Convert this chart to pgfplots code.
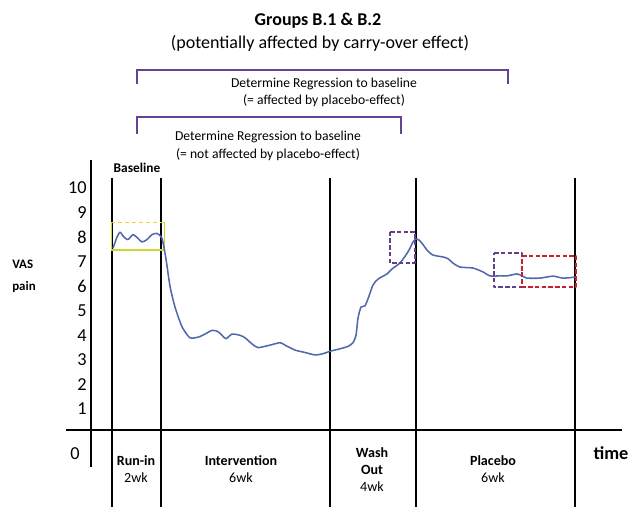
\documentclass[border=0pt]{standalone}
\usepackage{pgfplots}
\pgfplotsset{compat=1.18}
\usepackage{fontspec}
\setmainfont{Carlito}
\definecolor{curve}{RGB}{80,104,172}
\definecolor{brk}{RGB}{100,66,150}
\definecolor{boxpurple}{RGB}{100,62,140}
\definecolor{boxred}{RGB}{205,30,45}
\definecolor{boxyellow}{RGB}{232,214,40}
\definecolor{boxyg}{RGB}{200,215,50}
\newcommand{\fs}[1]{\fontsize{#1}{#1}\selectfont}
\begin{document}
\begin{tikzpicture}
\begin{axis}[
  scale only axis,
  width=15.975cm, height=12.725cm,
  xmin=0, xmax=639,
  ymin=-3.075, ymax=17.658,
  axis lines=none,
  clip=false,
  every axis plot/.append style={line join=round},
]
\path (axis cs:0,-3.075) rectangle (axis cs:639,17.658);

% axes and period separators
\addplot[black, line width=1.5pt] coordinates {(66,0.14) (622,0.14)};
\addplot[black, line width=1.5pt] coordinates {(91,11.14) (91,-1.35)};
\addplot[black, line width=1.1pt] coordinates {(112,10.41) (112,-2.99)};
\addplot[black, line width=1.1pt] coordinates {(161,10.41) (161,-2.99)};
\addplot[black, line width=1.1pt] coordinates {(330,10.41) (330,-2.99)};
\addplot[black, line width=1.1pt] coordinates {(416,10.41) (416,-2.99)};
\addplot[black, line width=1.1pt] coordinates {(575,10.41) (575,-2.99)};

% baseline window (yellow)
\addplot[boxyg, line width=0.6pt] coordinates {(111,8.6) (111,7.47)};
\addplot[boxyg, line width=0.6pt] coordinates {(164,8.6) (164,7.47)};
\addplot[boxyg, line width=1.1pt] coordinates {(111,7.47) (164,7.47)};
\addplot[boxyellow, line width=1.2pt, dash pattern=on 3pt off 2pt]
  coordinates {(111,8.6) (164,8.6)};

% VAS pain course
\addplot[curve, line width=1.1pt, smooth, tension=0.4] coordinates {
(113,7.55)(117,8.0)(120,8.2)(124,8.0)(128,7.9)(133,8.1)(138,7.95)(142,7.8)
(147,7.9)(152,8.1)(157,8.15)(162,7.95)(166,7.1)(170,6.0)(175,5.15)(182,4.35)
(190,3.9)(200,3.95)(212,4.2)(218,4.15)(222,4.0)(226,3.86)(232,4.05)(240,4.0)
(245,3.9)(252,3.65)(258,3.5)(270,3.6)(280,3.7)(285,3.6)(295,3.4)(305,3.3)
(315,3.2)(323,3.25)(330,3.35)(340,3.45)(348,3.55)(353,3.7)(356,4.0)(358,4.7)
(361,5.15)(365,5.2)(369,5.6)(373,6.05)(378,6.29)(387,6.5)(392,6.7)(400,6.95)
(408,7.4)(413,7.8)(416,7.92)(419,7.88)(423,7.7)(427,7.47)(433,7.27)(443,7.19)
(448,7.12)(453,6.94)(460,6.78)(473,6.74)(483,6.58)(490,6.42)(500,6.42)
(507,6.42)(517,6.5)(522,6.42)(527,6.33)(540,6.33)(553,6.41)(563,6.33)(575,6.37)
};

% marked windows
\addplot[boxpurple, line width=1.3pt, dash pattern=on 3.2pt off 1.6pt]
  coordinates {(390,8.2) (415,8.2) (415,6.94) (390,6.94) (390,8.2)};
\addplot[boxpurple, line width=1.3pt, dash pattern=on 3.2pt off 1.6pt]
  coordinates {(494,7.35) (522,7.35) (522,5.97) (494,5.97) (494,7.35)};
\addplot[boxred, line width=1.3pt, dash pattern=on 3.2pt off 1.6pt]
  coordinates {(522,7.23) (576,7.23) (576,5.97) (522,5.97) (522,7.23)};

% brackets
\draw[brk, line width=1.4pt] (axis cs:137,14.24) -- (axis cs:137,14.81)
  -- (axis cs:508,14.81) -- (axis cs:508,14.24);
\draw[brk, line width=1.4pt] (axis cs:137,12.2) -- (axis cs:137,12.89)
  -- (axis cs:401,12.89) -- (axis cs:401,12.2);

% titles
\node[font=\fs{12.8}\bfseries] at (axis cs:318,16.80) {Groups B.1 \& B.2};
\node[font=\fs{12.8}] at (axis cs:320,15.91) {(potentially affected by carry-over effect)};
\node[font=\fs{9.7}] at (axis cs:324,14.24) {Determine Regression to baseline};
\node[font=\fs{9.7}] at (axis cs:324,13.58) {(= affected by placebo-effect)};
\node[font=\fs{9.7}] at (axis cs:268,12.08) {Determine Regression to baseline};
\node[font=\fs{9.7}] at (axis cs:268,11.38) {(= not affected by placebo-effect)};
\node[font=\fs{9.5}\bfseries] at (axis cs:137,10.81) {Baseline};

% y tick labels and axis names
\pgfplotsinvokeforeach{1,...,10}{
  \node[font=\fs{13}, anchor=east, inner sep=0pt] at (axis cs:87,#1) {#1};
}
\node[font=\fs{13}, inner sep=0pt] at (axis cs:75,-0.8) {0};
\node[font=\fs{9.2}\bfseries, anchor=west, inner sep=0pt] at (axis cs:12,6.9) {VAS};
\node[font=\fs{9.2}\bfseries, anchor=west, inner sep=0pt] at (axis cs:12,5.97) {pain};
\node[font=\fs{13}\bfseries] at (axis cs:611,-0.8) {time};

% period labels
\node[font=\fs{10}\bfseries] at (axis cs:136,-1.12) {Run-in};
\node[font=\fs{10}] at (axis cs:136,-1.81) {2wk};
\node[font=\fs{10}\bfseries] at (axis cs:241,-1.12) {Intervention};
\node[font=\fs{10}] at (axis cs:241,-1.81) {6wk};
\node[font=\fs{10}\bfseries] at (axis cs:372,-0.78) {Wash};
\node[font=\fs{10}\bfseries] at (axis cs:372,-1.47) {Out};
\node[font=\fs{10}] at (axis cs:372,-2.16) {4wk};
\node[font=\fs{10}\bfseries] at (axis cs:493,-1.12) {Placebo};
\node[font=\fs{10}] at (axis cs:493,-1.81) {6wk};
\end{axis}
\end{tikzpicture}
\end{document}
